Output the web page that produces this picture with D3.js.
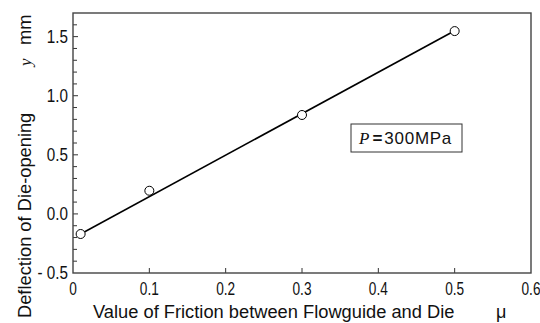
<!DOCTYPE html>
<html>
<head>
<meta charset="utf-8">
<script src="https://cdn.jsdelivr.net/npm/d3@7"></script>
<style>
  body { margin: 0; background: #fff; }
  svg { display: block; }
  text { font-family: "Liberation Sans", Arial, sans-serif; fill: #111; }
</style>
</head>
<body>
<div id="chart"></div>
<script>
// data
const frictions = [0.01, 0.1, 0.3, 0.5];
const deflections = [-0.17, 0.196, 0.837, 1.547];
const fitLine = [[0.01, -0.17], [0.5, 1.55]];
const xTickLabels = ['0', '0.1', '0.2', '0.3', '0.4', '0.5', '0.6'];
const yTickValues = [-0.5, 0.0, 0.5, 1.0, 1.5];
const yTickLabels = ['- 0.5', '0.0', '0.5', '1.0', '1.5'];

const width = 540, height = 323;
const margin = { left: 73, top: 13, right: 9, bottom: 50 };

const svg = d3.select('#chart').append('svg')
  .attr('width', width)
  .attr('height', height);

const x = d3.scaleLinear().domain([0, 0.6]).range([margin.left, width - margin.right]);
const y = d3.scaleLinear().domain([-0.5, 1.7]).range([height - margin.bottom, margin.top]);

// narrow tick-label look of the original
const squeeze = (px, k) => `translate(${px},0) scale(${k},1) translate(${-px},0)`;

const g = svg.append('g');

// minor y ticks (inside)
const yMinor = d3.range(-4, 17).map(i => i / 10);
g.selectAll('.ytick')
  .data(yMinor)
  .enter()
  .append('line')
  .attr('x1', x(0))
  .attr('x2', d => x(0) + (Math.abs(Math.round(d * 10) % 5) === 0 ? 5 : 4))
  .attr('y1', d => y(d))
  .attr('y2', d => y(d))
  .attr('stroke', '#333')
  .attr('stroke-width', 1);

// x ticks (inside)
const xMinor = d3.range(1, 6).map(i => i / 10);
g.selectAll('.xtick')
  .data(xMinor)
  .enter()
  .append('line')
  .attr('x1', d => x(d))
  .attr('x2', d => x(d))
  .attr('y1', y(-0.5))
  .attr('y2', y(-0.5) - 5)
  .attr('stroke', '#333')
  .attr('stroke-width', 1);

// frame
g.append('rect')
  .attr('x', x(0))
  .attr('y', y(1.7))
  .attr('width', x(0.6) - x(0))
  .attr('height', y(-0.5) - y(1.7))
  .attr('fill', 'none')
  .attr('stroke', '#444')
  .attr('stroke-width', 1.4);

// tick labels
g.selectAll('.xlab')
  .data(xTickLabels)
  .enter()
  .append('text')
  .attr('x', (d, i) => x(i / 10))
  .attr('y', y(-0.5) + 22)
  .attr('text-anchor', 'middle')
  .attr('font-size', 17.5)
  .attr('transform', (d, i) => squeeze(x(i / 10), 0.78))
  .text(d => d);

g.selectAll('.ylab')
  .data(yTickValues)
  .enter()
  .append('text')
  .attr('x', x(0) - 5)
  .attr('y', d => y(d) + 6.5)
  .attr('text-anchor', 'end')
  .attr('font-size', 17.5)
  .attr('transform', squeeze(x(0) - 5, 0.87))
  .text((d, i) => yTickLabels[i]);

// fit line
const line = d3.line().x(d => x(d[0])).y(d => y(d[1]));
g.append('path')
  .datum(fitLine)
  .attr('d', line)
  .attr('fill', 'none')
  .attr('stroke', '#000')
  .attr('stroke-width', 1.6);

// points
g.selectAll('.pt')
  .data(frictions)
  .enter()
  .append('circle')
  .attr('cx', d => x(d))
  .attr('cy', (d, i) => y(deflections[i]))
  .attr('r', 4.5)
  .attr('fill', '#fff')
  .attr('stroke', '#000')
  .attr('stroke-width', 1);

// legend box
const lg = g.append('g').attr('transform', 'translate(351,124)');
lg.append('rect')
  .attr('width', 111)
  .attr('height', 28)
  .attr('fill', '#fff')
  .attr('stroke', '#333')
  .attr('stroke-width', 1);
const lt = lg.append('text').attr('x', 8).attr('y', 20).attr('font-size', 17);
lt.append('tspan')
  .style('font-family', '"Liberation Serif", "Times New Roman", serif')
  .style('font-style', 'italic')
  .text('P');
lt.append('tspan').attr('dx', 3).style('font-weight', 'bold').text('=');
lt.append('tspan').attr('dx', 2).attr('textLength', 67).text('300MPa');

// x title
svg.append('text')
  .attr('x', 93)
  .attr('y', 318)
  .attr('font-size', 18.3)
  .text('Value of Friction between Flowguide and Die');
svg.append('text')
  .attr('x', 496)
  .attr('y', 318)
  .attr('font-size', 18)
  .text('μ');

// y title (rotated)
const yt = svg.append('g').attr('transform', 'translate(31,318) rotate(-90)');
yt.append('text')
  .attr('x', 0)
  .attr('y', 0)
  .attr('font-size', 18.3)
  .text('Deflection of Die-opening');
yt.append('text')
  .attr('x', 252)
  .attr('y', 0)
  .attr('font-size', 17)
  .style('font-family', '"Liberation Serif", "Times New Roman", serif')
  .style('font-style', 'italic')
  .text('y');
yt.append('text')
  .attr('x', 273)
  .attr('y', 0)
  .attr('font-size', 18.3)
  .text('mm');
</script>
</body>
</html>
